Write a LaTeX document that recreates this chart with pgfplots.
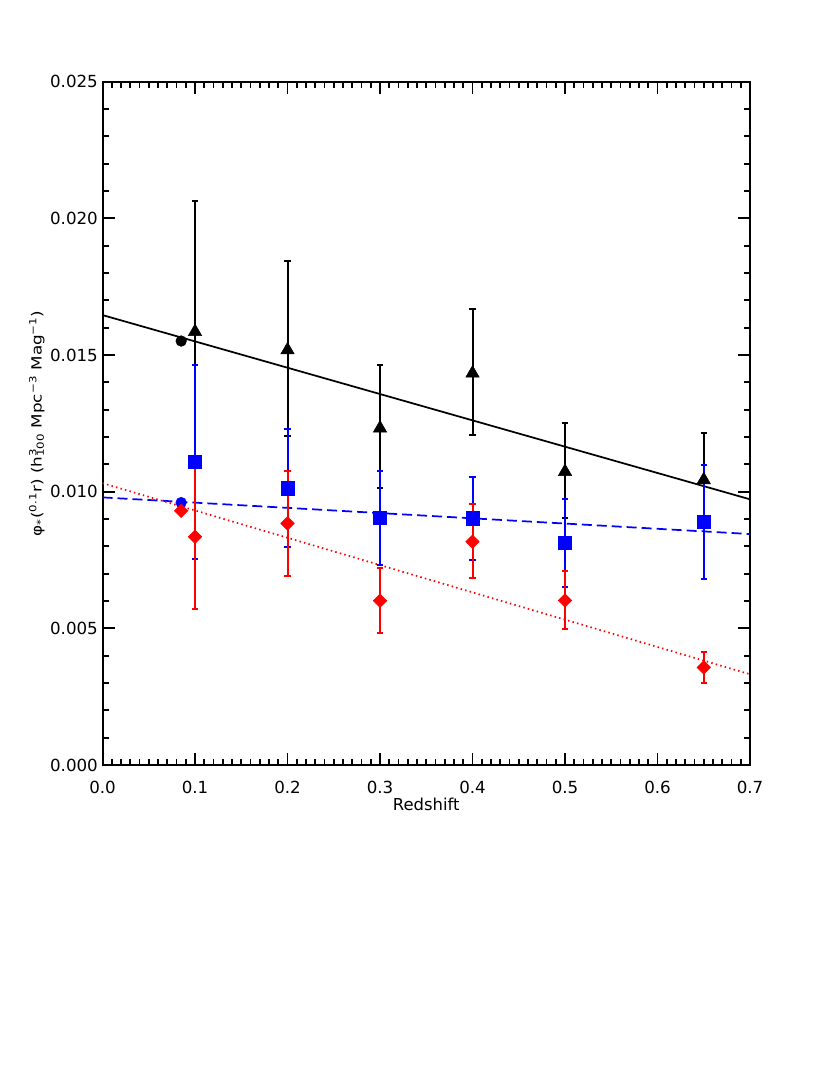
\documentclass[border=0pt]{standalone}
\usepackage{fontspec}
\setmainfont{DejaVu Sans}
\newfontfamily\labfont[FakeStretch=1.2]{DejaVu Sans}
\usepackage{pgfplots}
\pgfplotsset{compat=1.18}

\pgfplotsset{
  ebar/.style={error bars/.cd, y dir=both, y explicit,
    error bar style={line width=1.5pt, solid},
    error mark options={line width=1.5pt, mark size=2.4pt, rotate=90}},
}

\begin{document}
\begin{tikzpicture}
\useasboundingbox (0,0) rectangle (622.5pt,806.25pt);
\begin{axis}[
  at={(76.9pt,232.5pt)}, anchor=south west,
  scale only axis, width=485.6pt, height=512.5pt,
  xmin=0, xmax=0.7, ymin=0, ymax=0.025,
  xtick={0,0.1,...,0.7}, ytick={0,0.005,...,0.025},
  minor x tick num=9, minor y tick num=4,
  tick align=inside,
  major tick length=9pt, minor tick length=4.5pt,
  every tick/.style={black, line width=1.3pt},
  axis line style={line width=1.5pt},
  scaled y ticks=false,
  /pgf/number format/assume math mode=true,
  xticklabel style={font=\fontsize{12.5}{14}\selectfont, anchor=base,
    /pgf/number format/.cd, fixed, fixed zerofill, precision=1},
  xticklabel shift=21.7pt,
  yticklabel style={font=\fontsize{12.5}{14}\selectfont,
    /pgf/number format/.cd, fixed, fixed zerofill, precision=3},
  xlabel={Redshift},
  xlabel style={font=\fontsize{12.3}{14}\selectfont,
    at={([yshift=-34.3pt]axis description cs:0.5,0)}, anchor=base},
  ylabel={φ\textsubscript{*}(\textsuperscript{0.1}r) (h\rlap{\textsuperscript{3}}\textsubscript{100} Mpc\textsuperscript{−3} Mag\textsuperscript{−1})},
  ylabel style={font=\labfont\fontsize{10.5}{12}\selectfont,
    at={([xshift=-45.6pt]axis description cs:0,0.5)}, anchor=base},
]
% fitted lines
\addplot[black, line width=1.3pt] coordinates {(0,0.01646)(0.7,0.00972)};
\addplot[blue, line width=1.3pt, dash pattern=on 7.5pt off 3.75pt] coordinates {(0,0.00979)(0.7,0.00845)};
\addplot[red, line width=1.3pt, dash pattern=on 1.1pt off 2.4pt] coordinates {(0,0.01031)(0.7,0.00332)};

% black triangles
\addplot[black, only marks, mark=triangle*, mark size=5.8pt, ebar]
  table[x=x, y=y, y error plus=ep, y error minus=em] {
x y ep em
0.10 0.01585 0.00478 0.00478
0.20 0.01518 0.00325 0.00314
0.30 0.01232 0.00231 0.00220
0.40 0.01433 0.00236 0.00226
0.50 0.01073 0.00179 0.00170
0.65 0.01043 0.00173 0.00173
};
\addplot[black, only marks, mark=*, mark size=4pt] coordinates {(0.085,0.01551)};

% blue squares
\addplot[blue, only marks, mark=square*, mark size=5pt, ebar]
  table[x=x, y=y, y error plus=ep, y error minus=em] {
x y ep em
0.10 0.01110 0.00353 0.00356
0.20 0.01012 0.00216 0.00213
0.30 0.00905 0.00172 0.00173
0.40 0.00903 0.00152 0.00154
0.50 0.00813 0.00161 0.00161
0.65 0.00890 0.00208 0.00210
};
\addplot[blue, only marks, mark=*, mark size=4pt] coordinates {(0.085,0.00960)};

% red diamonds
\addplot[red, only marks, mark=square*, mark size=3.6pt, mark options={rotate=45}, ebar]
  table[x=x, y=y, y error plus=ep, y error minus=em] {
x y ep em
0.10 0.00835 0.00263 0.00264
0.20 0.00884 0.00193 0.00193
0.30 0.00601 0.00119 0.00117
0.40 0.00817 0.00137 0.00134
0.50 0.00602 0.00108 0.00104
0.65 0.00357 0.00058 0.00058
};
\addplot[red, only marks, mark=square*, mark size=3.6pt, mark options={rotate=45}] coordinates {(0.085,0.00930)};
\end{axis}
\end{tikzpicture}
\end{document}
